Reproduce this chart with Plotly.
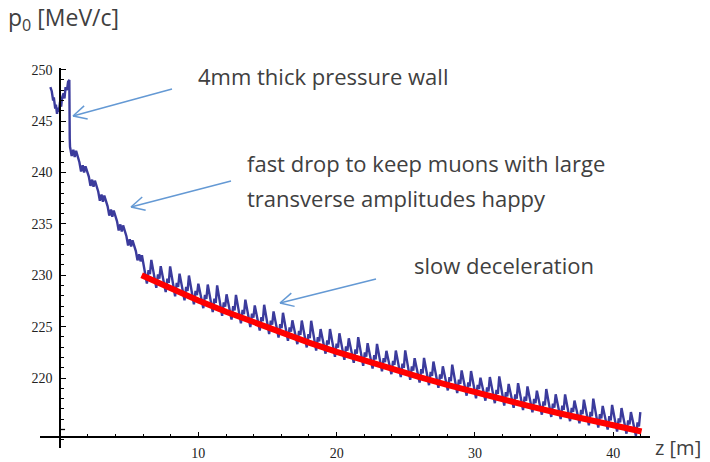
import math
import plotly.graph_objects as go

# ---------------------------------------------------------------------------
# Reference momentum p0 [MeV/c] along the channel, z [m]
# ---------------------------------------------------------------------------

# Upstream of (and through) the pressure wall
WALL_Z = [-0.70, -0.60, -0.50, -0.45, -0.35, -0.30, -0.22, -0.15, -0.08, 0.00,
          0.08, 0.15, 0.25, 0.32, 0.40, 0.50, 0.58, 0.67, 0.70]
WALL_P = [248.3, 247.9, 247.0, 247.3, 246.2, 246.6, 245.7, 246.3, 245.9, 246.9,
          246.4, 247.3, 247.7, 247.2, 248.3, 248.0, 248.8, 249.0, 243.3]

# Fast drop section
FAST_Z = [0.72, 0.84, 0.96, 1.06, 1.16,
          1.40, 1.52, 1.64, 1.74, 1.84,
          2.08, 2.20, 2.32, 2.42, 2.52,
          2.76, 2.88, 3.00, 3.10, 3.20,
          3.44, 3.56, 3.68, 3.78, 3.88,
          4.12, 4.24, 4.36, 4.46, 4.56,
          4.80, 4.92, 5.04, 5.14, 5.24,
          5.48, 5.60, 5.72, 5.82, 5.92]
FAST_P = [242.5, 241.6, 242.2, 241.5, 242.1,
          241.0, 240.1, 240.7, 240.0, 240.6,
          239.6, 238.7, 239.3, 238.6, 239.2,
          238.15, 237.25, 237.85, 237.15, 237.75,
          236.7, 235.8, 236.4, 235.7, 236.3,
          235.25, 234.35, 234.95, 234.25, 234.85,
          233.8, 232.9, 233.5, 232.8, 233.4,
          232.35, 231.45, 232.05, 231.35, 231.95]

# Slow deceleration section
SLOW_Z = [6.16, 6.28, 6.40, 6.50, 6.60,
          6.84, 6.96, 7.08, 7.18, 7.28,
          7.52, 7.64, 7.76, 7.86, 7.96,
          8.20, 8.32, 8.44, 8.54, 8.64,
          8.88, 9.00, 9.12, 9.22, 9.32,
          9.56, 9.68, 9.80, 9.90, 10.00,
          10.24, 10.36, 10.48, 10.58, 10.68,
          10.92, 11.04, 11.16, 11.26, 11.36,
          11.60, 11.72, 11.84, 11.94, 12.04,
          12.28, 12.40, 12.52, 12.62, 12.72,
          12.96, 13.08, 13.20, 13.30, 13.40,
          13.64, 13.76, 13.88, 13.98, 14.08,
          14.32, 14.44, 14.56, 14.66, 14.76,
          15.00, 15.12, 15.24, 15.34, 15.44,
          15.68, 15.80, 15.92, 16.02, 16.12,
          16.36, 16.48, 16.60, 16.70, 16.80,
          17.04, 17.16, 17.28, 17.38, 17.48,
          17.72, 17.84, 17.96, 18.06, 18.16,
          18.40, 18.52, 18.64, 18.74, 18.84,
          19.08, 19.20, 19.32, 19.42, 19.52,
          19.76, 19.88, 20.00, 20.10, 20.20,
          20.44, 20.56, 20.68, 20.78, 20.88,
          21.12, 21.24, 21.36, 21.46, 21.56,
          21.80, 21.92, 22.04, 22.14, 22.24,
          22.48, 22.60, 22.72, 22.82, 22.92,
          23.16, 23.28, 23.40, 23.50, 23.60,
          23.84, 23.96, 24.08, 24.18, 24.28,
          24.52, 24.64, 24.76, 24.86, 24.96,
          25.20, 25.32, 25.44, 25.54, 25.64,
          25.88, 26.00, 26.12, 26.22, 26.32,
          26.56, 26.68, 26.80, 26.90, 27.00,
          27.24, 27.36, 27.48, 27.58, 27.68,
          27.92, 28.04, 28.16, 28.26, 28.36,
          28.60, 28.72, 28.84, 28.94, 29.04,
          29.28, 29.40, 29.52, 29.62, 29.72,
          29.96, 30.08, 30.20, 30.30, 30.40,
          30.64, 30.76, 30.88, 30.98, 31.08,
          31.32, 31.44, 31.56, 31.66, 31.76,
          32.00, 32.12, 32.24, 32.34, 32.44,
          32.68, 32.80, 32.92, 33.02, 33.12,
          33.36, 33.48, 33.60, 33.70, 33.80,
          34.04, 34.16, 34.28, 34.38, 34.48,
          34.72, 34.84, 34.96, 35.06, 35.16,
          35.40, 35.52, 35.64, 35.74, 35.84,
          36.08, 36.20, 36.32, 36.42, 36.52,
          36.76, 36.88, 37.00, 37.10, 37.20,
          37.44, 37.56, 37.68, 37.78, 37.88,
          38.12, 38.24, 38.36, 38.46, 38.56,
          38.80, 38.92, 39.04, 39.14, 39.24,
          39.48, 39.60, 39.72, 39.82, 39.92,
          40.16, 40.28, 40.40, 40.50, 40.60,
          40.84, 40.96, 41.08, 41.18, 41.28,
          41.52, 41.64, 41.76, 41.86, 41.96]
SLOW_P = [229.90, 229.20, 230.50, 230.10, 231.50,
          229.48, 228.78, 230.08, 229.68, 230.88,
          229.06, 228.36, 229.66, 229.26, 230.86,
          228.66, 227.96, 229.26, 228.86, 230.16,
          228.27, 227.57, 228.87, 228.47, 229.97,
          227.88, 227.18, 228.48, 228.08, 229.18,
          227.50, 226.80, 228.10, 227.70, 229.10,
          227.12, 226.42, 227.72, 227.32, 229.02,
          226.75, 226.05, 227.35, 226.95, 228.15,
          226.39, 225.69, 226.99, 226.59, 228.09,
          226.03, 225.33, 226.63, 226.23, 227.63,
          225.67, 224.97, 226.27, 225.87, 227.07,
          225.33, 224.63, 225.93, 225.53, 227.13,
          224.99, 224.29, 225.59, 225.19, 226.49,
          224.65, 223.95, 225.25, 224.85, 226.35,
          224.32, 223.62, 224.92, 224.52, 225.62,
          224.00, 223.30, 224.60, 224.20, 225.60,
          223.68, 222.98, 224.28, 223.88, 225.58,
          223.37, 222.67, 223.97, 223.57, 224.77,
          223.07, 222.37, 223.67, 223.27, 224.77,
          222.76, 222.06, 223.36, 222.96, 224.36,
          222.47, 221.77, 223.07, 222.67, 223.87,
          222.18, 221.48, 222.78, 222.38, 223.98,
          221.89, 221.19, 222.49, 222.09, 223.39,
          221.62, 220.92, 222.22, 221.82, 223.32,
          221.35, 220.65, 221.95, 221.55, 222.65,
          221.08, 220.38, 221.68, 221.28, 222.68,
          220.80, 220.10, 221.40, 221.00, 222.70,
          220.53, 219.83, 221.13, 220.73, 221.93,
          220.26, 219.56, 220.86, 220.46, 221.96,
          220.01, 219.31, 220.61, 220.21, 221.61,
          219.75, 219.05, 220.35, 219.95, 221.15,
          219.50, 218.80, 220.10, 219.70, 221.30,
          219.24, 218.54, 219.84, 219.44, 220.74,
          218.99, 218.29, 219.59, 219.19, 220.69,
          218.74, 218.04, 219.34, 218.94, 220.04,
          218.50, 217.80, 219.10, 218.70, 220.10,
          218.26, 217.56, 218.86, 218.46, 220.16,
          218.03, 217.33, 218.63, 218.23, 219.43,
          217.81, 217.11, 218.41, 218.01, 219.51,
          217.59, 216.89, 218.19, 217.79, 219.19,
          217.37, 216.67, 217.97, 217.57, 218.77,
          217.14, 216.44, 217.74, 217.34, 218.94,
          216.92, 216.22, 217.52, 217.12, 218.42,
          216.71, 216.01, 217.31, 216.91, 218.41,
          216.51, 215.81, 217.11, 216.71, 217.81,
          216.30, 215.60, 216.90, 216.50, 217.90,
          216.10, 215.40, 216.70, 216.30, 218.00,
          215.89, 215.19, 216.49, 216.09, 217.29,
          215.69, 214.99, 216.29, 215.89, 217.39,
          215.49, 214.79, 216.09, 215.69, 217.09,
          215.29, 214.59, 215.89, 215.49, 216.69,
          215.09, 214.39, 215.69, 215.29, 216.69]

# Smooth slow-deceleration reference curve
RED_Z = [5.9, 8, 10, 12, 14, 16, 18, 20, 22, 24, 26, 28, 30, 32, 34, 36, 38, 40, 42.05]
RED_P = [230.0, 228.7, 227.55, 226.45, 225.4, 224.4, 223.45, 222.55, 221.7, 220.9,
         220.1, 219.35, 218.6, 217.9, 217.25, 216.6, 216.0, 215.4, 214.8]

# Axis ticks (215 gets an unlabelled major tick next to the z axis)
X_TICKS = [10, 20, 30, 40]
Y_TICKS = [220, 225, 230, 235, 240, 245, 250]
Y_BARE_TICK = 215

# ---------------------------------------------------------------------------
W, H = 710, 462
ML, MR, MT, MB = 40, 60, 68, 14
PW, PH = W - ML - MR, H - MT - MB
X_RANGE = [-1.45, 42.66]
Y_RANGE = [213.2, 250.16]
X_ORIGIN_P = 214.24   # height at which the z axis is drawn
Y_ORIGIN_Z = 0.0      # z at which the p axis is drawn
MAJOR_LEN = 5


def fx(x):
    """pixel x -> paper x"""
    return (x - ML) / PW


def fy(y):
    """pixel y -> paper y"""
    return (H - MB - y) / PH


blue_z = WALL_Z + FAST_Z + SLOW_Z
blue_p = WALL_P + FAST_P + SLOW_P

fig = go.Figure()
fig.add_trace(go.Scatter(x=blue_z, y=blue_p, mode="lines",
                         line=dict(color="#3b3b9c", width=2.4),
                         hoverinfo="skip", showlegend=False))
fig.add_trace(go.Scatter(x=RED_Z, y=RED_P, mode="lines",
                         line=dict(color="#ff0000", width=6),
                         hoverinfo="skip", showlegend=False))

tick_font = dict(family="Liberation Serif", size=14, color="#222222")
y_axis_pos = (Y_ORIGIN_Z - X_RANGE[0]) / (X_RANGE[1] - X_RANGE[0])

fig.update_layout(
    width=W, height=H,
    margin=dict(l=ML, r=MR, t=MT, b=MB, autoexpand=False),
    paper_bgcolor="white", plot_bgcolor="white",
    showlegend=False,
    xaxis=dict(
        range=X_RANGE, anchor="free", automargin=False,
        position=(X_ORIGIN_P - Y_RANGE[0]) / (Y_RANGE[1] - Y_RANGE[0]),
        showline=True, linecolor="black", linewidth=1.6,
        ticks="inside", ticklen=MAJOR_LEN, tickwidth=1.3, tickcolor="black",
        tickmode="array", tickvals=X_TICKS, ticktext=[str(v) for v in X_TICKS],
        minor=dict(tick0=0, dtick=2, ticks="inside", ticklen=3,
                   tickwidth=1, tickcolor="black"),
        showgrid=False, zeroline=False, tickfont=tick_font,
        ticklabelstandoff=3,
    ),
    yaxis=dict(
        range=Y_RANGE, anchor="free", position=y_axis_pos, automargin=False,
        showline=True, linecolor="black", linewidth=1.6,
        ticks="inside", ticklen=MAJOR_LEN, tickwidth=1.3, tickcolor="black",
        tickmode="array", tickvals=Y_TICKS, ticktext=[str(v) for v in Y_TICKS],
        minor=dict(tick0=0, dtick=1, ticks="inside", ticklen=3,
                   tickwidth=1, tickcolor="black"),
        showgrid=False, zeroline=False, tickfont=tick_font,
        ticklabelstandoff=4,
    ),
)

# unlabelled major tick at p = 215
fig.add_shape(type="line", xref="paper", yref="y",
              x0=y_axis_pos, x1=y_axis_pos + MAJOR_LEN / PW,
              y0=Y_BARE_TICK, y1=Y_BARE_TICK,
              line=dict(color="black", width=1.3))

# Text labels
labels = [
    ("p<sub>0</sub> [MeV/c]", 7, 18, 23),
    ("4mm thick pressure wall", 197, 76, 22),
    ("fast drop to keep muons with large", 246, 163, 22),
    ("transverse amplitudes happy", 246, 198, 22),
    ("slow deceleration", 413, 265, 22),
    ("z [m]", 654, 447, 20),
]
for text, x, y, size in labels:
    fig.add_annotation(text=text, xref="paper", yref="paper",
                       x=fx(x), y=fy(y), xanchor="left", yanchor="middle",
                       showarrow=False, borderpad=0,
                       font=dict(family="Open Sans", size=size, color="#404040"))

# Callout arrows (tail pixel -> tip pixel) with open V heads
ARROWS = [((172, 89), (73, 116)),
          ((231, 181), (131, 207)),
          ((376, 279), (280, 303))]
ARROW_COLOR = "#6499d4"
HEAD_LEN, HEAD_ANG = 15, math.radians(27)
for (tx, ty), (hx, hy) in ARROWS:
    fig.add_shape(type="line", xref="paper", yref="paper",
                  x0=fx(tx), y0=fy(ty), x1=fx(hx), y1=fy(hy),
                  line=dict(color=ARROW_COLOR, width=1.5))
    ang = math.atan2(ty - hy, tx - hx)
    for s in (1, -1):
        ax = hx + HEAD_LEN * math.cos(ang + s * HEAD_ANG)
        ay = hy + HEAD_LEN * math.sin(ang + s * HEAD_ANG)
        fig.add_shape(type="line", xref="paper", yref="paper",
                      x0=fx(hx), y0=fy(hy), x1=fx(ax), y1=fy(ay),
                      line=dict(color=ARROW_COLOR, width=1.5))

fig.write_html("out.html")
